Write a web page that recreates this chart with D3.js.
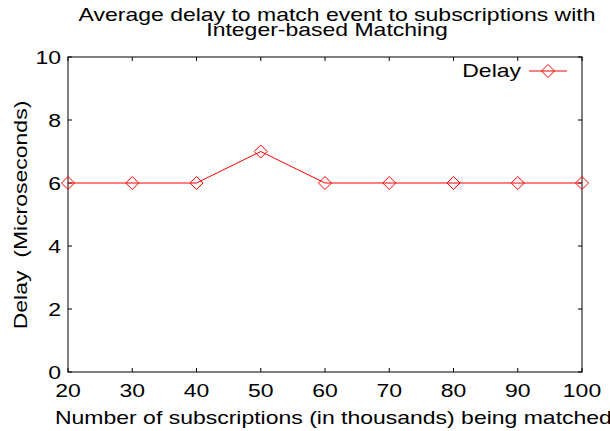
<!DOCTYPE html>
<html>
<head>
<meta charset="utf-8">
<script src="https://cdn.jsdelivr.net/npm/d3@7"></script>
<style>
  body { margin: 0; background: #fff; }
  text { font-family: "Liberation Sans", Arial, sans-serif; fill: #000; font-size: 19px; white-space: pre; }
</style>
</head>
<body>
<div id="chart"></div>
<script>
// Data
const subscriptions = [20, 30, 40, 50, 60, 70, 80, 90, 100];
const delay = [6, 6, 6, 7, 6, 6, 6, 6, 6];
const xTicks = [20, 30, 40, 50, 60, 70, 80, 90, 100];
const yTicks = [0, 2, 4, 6, 8, 10];

const W = 610, H = 431;
const margin = { top: 57, right: 28, bottom: 59, left: 68 };
const width = W - margin.left - margin.right,
  height = H - margin.top - margin.bottom;

// gnuplot's font comes out wider than Liberation Sans, so stretch text horizontally
const STRETCH = 1.21;

const svg = d3.select("#chart").append("svg")
  .attr("width", W).attr("height", H);

// place a stretched text at (px,py), optional rotation
function label(parent, px, py, str, anchor, rot) {
  return parent.append("text")
    .attr("transform", `translate(${px},${py})${rot ? ` rotate(${rot})` : ""} scale(${STRETCH},1)`)
    .attr("text-anchor", anchor || "start")
    .text(str);
}

const g = svg.append("g")
  .attr("transform", `translate(${margin.left},${margin.top})`);

const x = d3.scaleLinear().domain([20, 100]).range([0, width]);
const y = d3.scaleLinear().domain([0, 10]).range([height, 0]);

// frame
g.append("rect")
  .attr("width", width).attr("height", height)
  .attr("fill", "none").attr("stroke", "#000").attr("stroke-width", 1);

// ticks (gnuplot style: inward, mirrored)
const tickLen = 4;
g.selectAll(".xt").data(xTicks).enter().append("path")
  .attr("d", d => `M${x(d)},${height}v${-tickLen}M${x(d)},0v${tickLen}`)
  .attr("stroke", "#000");
g.selectAll(".yt").data(yTicks).enter().append("path")
  .attr("d", d => `M0,${y(d)}h${tickLen}M${width},${y(d)}h${-tickLen}`)
  .attr("stroke", "#000");

// tick labels
xTicks.forEach(d => label(g, x(d), height + 25, d, "middle"));
yTicks.forEach(d => label(g, -7, y(d) + 7, d, "end"));

// axis labels
label(svg, 55, 424, "Number of subscriptions (in thousands) being matched");
label(svg, 27, 215, "Delay  (Microseconds)", "middle", -90);

// title
label(svg, 337, 21, "Average delay to match event to subscriptions with", "middle");
label(svg, 327, 36, "Integer-based Matching", "middle");

// series
const red = "#ff0000";
const line = d3.line().x((d, i) => x(subscriptions[i])).y(d => y(d));
g.append("path").datum(delay)
  .attr("d", line).attr("fill", "none")
  .attr("stroke", red).attr("stroke-width", 1);

const diamond = (cx, cy, r) => `M${cx},${cy - r}L${cx + r},${cy}L${cx},${cy + r}L${cx - r},${cy}Z`;
g.selectAll(".pt").data(delay).enter().append("path")
  .attr("d", (d, i) => diamond(x(subscriptions[i]), y(d), 6.5))
  .attr("fill", "none").attr("stroke", red).attr("stroke-width", 1);

// legend
label(svg, 521, 77, "Delay", "end");
svg.append("path")
  .attr("d", "M529,71H567")
  .attr("stroke", red).attr("stroke-width", 1);
svg.append("path")
  .attr("d", diamond(548, 71, 6.5))
  .attr("fill", "none").attr("stroke", red).attr("stroke-width", 1);
</script>
</body>
</html>
